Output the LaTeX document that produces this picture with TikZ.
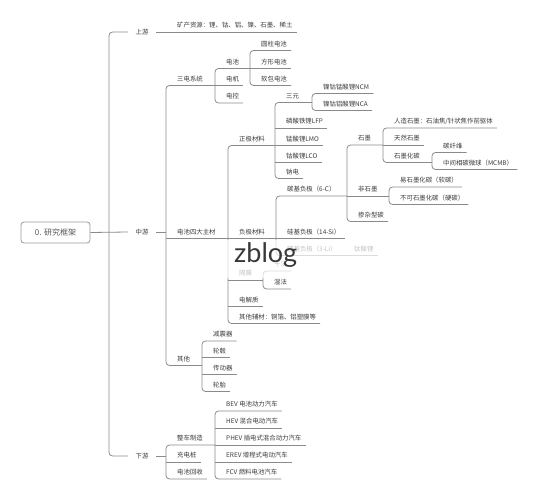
\documentclass[tikz,border=0pt]{standalone}
\usepackage{fontspec}
\setmainfont{Noto Sans CJK SC}
\newfontfamily\wmfont{Lato}
\usetikzlibrary{calc}
\definecolor{linec}{HTML}{8A8A8A}
\definecolor{txtc}{HTML}{3A3A3A}
\definecolor{boxc}{HTML}{9A9A9A}
\definecolor{wmc}{HTML}{383838}
\newcommand\fsz{\fontsize{6.4}{7}\selectfont}
\tikzset{
  ln/.style={draw=linec, line width=0.8pt},
  lbl/.style={anchor=west, inner sep=0pt, font=\fsz, text=txtc},
  lone/.style={inner xsep=7.5pt, inner ysep=0pt, font=\fsz, text=txtc},
  rootbox/.style={draw=boxc, line width=0.8pt, rounded corners=3pt, fill=white,
    minimum width=69pt, minimum height=21pt, inner sep=0pt,
    font=\fontsize{8}{9}\selectfont, text=txtc!85}
}
\newcommand\mkleaf[4]{%
  \node[lbl] (#1) at (#2+11,#3) {#4};
  \coordinate (#1-a) at (#2,#3+6.5);
  \coordinate (#1-b) at ($(#1.east|-#1-a)+(4,0)$);
}
\newcommand\mkpar[5]{%
  \node[lbl] (#1) at (#2+11,#3) {#4};
  \coordinate (#1-a) at (#2,#3+6.5);
  \coordinate (#1-b) at (#5,#3+6.5);
}
\newcommand\mkspine[2]{\draw[ln,rounded corners=3.5pt] (#1-b) -- (#1-a) -- (#2-a) -- (#2-b);}
\newcommand\mkul[1]{\draw[ln] (#1-a) -- (#1-b);}
\begin{document}
\begin{tikzpicture}[x=1pt,y=-1pt]
\useasboundingbox (0,0) rectangle (536,500);
% root and level 1
\node[rootbox] (root) at (55.5,232.5) {0. 研究框架};
\node[lone] (shangyou) at (142,32) {上游};
\node[lone] (zhongyou) at (142,232) {中游};
\node[lone] (xiayou) at (142,456) {下游};
\coordinate (s1) at (109,0);
\draw[ln,rounded corners=3.5pt] (shangyou.west) -- (shangyou.west -| s1) -- (xiayou.west -| s1) -- (xiayou.west);
\draw[ln] (root.east) -- (zhongyou.west);
% upstream
\mkleaf{kuang}{166}{25.5}{矿产资源：锂、钴、铝、镍、石墨、稀土}
\draw[ln] (shangyou.east) -- (kuang-b);
% midstream level 2
\mkpar{sandian}{166}{79}{三电系统}{215}
\mkpar{dacai}{166}{232}{电池四大主材}{228}
\mkpar{qita}{166}{359}{其他}{202}
\mkspine{sandian}{qita}
\mkul{dacai}
\draw[ln] (zhongyou.east) -- (zhongyou.east -| sandian-a);
% three-electric
\mkpar{dianchi}{215}{62}{电池}{250}
\mkleaf{dianji}{215}{79}{电机}
\mkleaf{diankong}{215}{96.5}{电控}
\mkspine{dianchi}{diankong}
\mkul{dianji}
\mkleaf{yuanzhu}{250}{44}{圆柱电池}
\mkleaf{fangxing}{250}{62}{方形电池}
\mkleaf{ruanbao}{250}{79}{软包电池}
\mkspine{yuanzhu}{ruanbao}
\mkul{fangxing}
% four main materials
\mkpar{zhengji}{228}{139}{正极材料}{275}
\mkpar{fuji}{228}{232}{负极材料}{276}
\mkpar{gemo}{228}{273.5}{隔膜}{263}
\mkleaf{dianjiezhi}{228}{300}{电解质}
\mkleaf{fucai}{228}{317}{其他辅材：铜箔、铝塑膜等}
\mkspine{zhengji}{fucai}
\mkul{fuji}\mkul{gemo}\mkul{dianjiezhi}
% cathode
\mkpar{sanyuan}{275}{96}{三元}{312}
\mkleaf{lfp}{275}{121.5}{磷酸铁锂LFP}
\mkleaf{lmo}{275}{139}{锰酸锂LMO}
\mkleaf{lco}{275}{156}{钴酸锂LCO}
\mkleaf{nadian}{275}{172}{钠电}
\mkspine{sanyuan}{nadian}
\mkul{lfp}\mkul{lmo}\mkul{lco}
\mkleaf{ncm}{312}{87}{镍钴锰酸锂NCM}
\mkleaf{nca}{312}{104}{镍钴铝酸锂NCA}
\mkspine{ncm}{nca}
% anode
\mkpar{tanji}{276}{189.5}{碳基负极（6-C）}{347}
\mkleaf{guiji}{276}{232}{硅基负极（14-Si）}
\mkpar{liji}{276}{249}{锂基负极（3-Li）}{343}
\mkspine{tanji}{liji}
\mkul{guiji}
\mkpar{shimo}{347}{138.5}{石墨}{383}
\mkpar{feishimo}{347}{189.5}{非石墨}{389}
\mkleaf{chanza}{347}{215}{掺杂型碳}
\mkspine{shimo}{chanza}
\mkul{feishimo}
\mkleaf{renzao}{383}{121.5}{人造石墨：石油焦/针状焦作前驱体}
\mkleaf{tianran}{383}{138.5}{天然石墨}
\mkpar{shimohua}{383}{156}{石墨化碳}{432}
\mkspine{renzao}{shimohua}
\mkul{tianran}
\mkleaf{tanxian}{432}{146}{碳纤维}
\mkleaf{mcmb}{432}{163}{中间相碳微球（MCMB）}
\mkspine{tanxian}{mcmb}
\mkleaf{ruantan}{389}{180.5}{易石墨化碳（软碳）}
\mkleaf{yingtan}{389}{198}{不可石墨化碳（硬碳）}
\mkspine{ruantan}{yingtan}
\mkleaf{taisuan}{343}{249}{钛酸锂}
\draw[ln] (liji-b) -- (taisuan-b);
% separator
\mkleaf{ganfa}{263}{264.5}{干法}
\mkleaf{shifa}{263}{282.5}{湿法}
\mkspine{ganfa}{shifa}
% others
\mkleaf{jianzhen}{202}{334.5}{减震器}
\mkleaf{lungu}{202}{351}{轮毂}
\mkleaf{chuandong}{202}{368}{传动器}
\mkleaf{luntai}{202}{385}{轮胎}
\mkspine{jianzhen}{luntai}
\mkul{lungu}\mkul{chuandong}
% downstream
\mkpar{zhengche}{166}{438.5}{整车制造}{215}
\mkleaf{chongdian}{166}{455.5}{充电桩}
\mkleaf{huishou}{166}{472.5}{电池回收}
\mkspine{zhengche}{huishou}
\mkul{chongdian}
\draw[ln] (xiayou.east) -- (xiayou.east -| zhengche-a);
\mkleaf{bev}{215}{404.5}{BEV 电池动力汽车}
\mkleaf{hev}{215}{421.5}{HEV 混合电动汽车}
\mkleaf{phev}{215}{438.5}{PHEV 插电式混合动力汽车}
\mkleaf{erev}{215}{455.5}{EREV 增程式电动汽车}
\mkleaf{fcv}{215}{472.5}{FCV 燃料电池汽车}
\mkspine{bev}{fcv}
\mkul{hev}\mkul{phev}\mkul{erev}
% watermark
\fill[white, opacity=0.7] (224,240.5) rectangle (381,278.3);
\node[anchor=base west, inner sep=0pt, font=\wmfont\fontsize{27}{27}\selectfont, text=wmc] (wm) at (234,262) {zblog};
\end{tikzpicture}
\end{document}
